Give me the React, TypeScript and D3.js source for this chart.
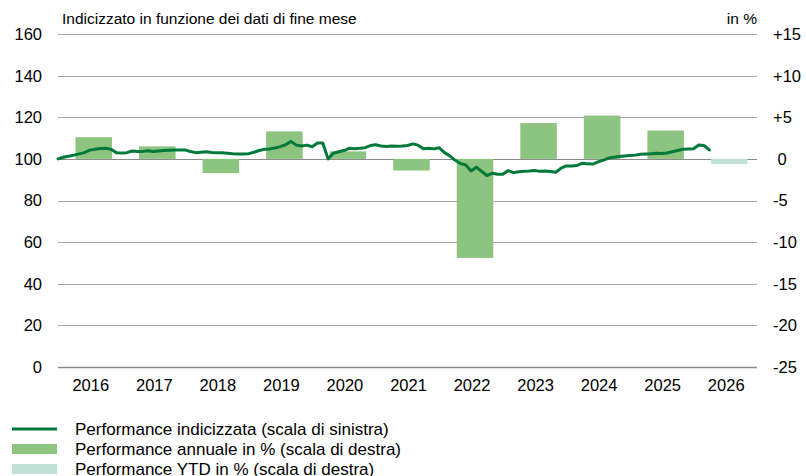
import React from "react";
import * as d3 from "d3";

const years = ["2016", "2017", "2018", "2019", "2020", "2021", "2022", "2023", "2024", "2025", "2026"];
const annualPerf = [2.6, 1.5, -1.7, 3.3, 0.9, -1.4, -11.9, 4.3, 5.2, 3.4, null];
const ytdPerf = [null, null, null, null, null, null, null, null, null, null, -0.6];
const leftTicks = [0, 20, 40, 60, 80, 100, 120, 140, 160];
const rightTicks = [-25, -20, -15, -10, -5, 0, 5, 10, 15];
// monthly index values, Dec 2015 = 100
const indexed = [
  100.0,
  100.8, 101.3, 101.8, 102.4, 103.0, 104.2, 104.6, 105.0, 105.1, 104.6, 103.0, 102.8,
  103.0, 103.8, 103.5, 103.6, 103.9, 103.5, 103.8, 104.0, 104.2, 104.3, 104.3, 104.3,
  103.5, 103.0, 103.2, 103.4, 103.1, 103.0, 102.9, 102.7, 102.5, 102.4, 102.4, 102.5,
  103.2, 104.0, 104.6, 104.8, 105.2, 105.9, 106.8, 108.4, 106.6, 106.2, 106.6, 105.8,
  107.6, 107.6, 100.0, 102.7, 103.4, 104.0, 105.1, 104.9, 105.1, 105.4, 106.4, 106.8,
  106.2, 106.0, 106.2, 106.1, 106.2, 106.4, 107.2, 106.6, 104.9, 105.1, 104.8, 105.3,
  103.0, 101.4, 99.3, 97.8, 97.1, 94.2, 96.0, 94.0, 92.0, 93.1, 92.6, 92.6,
  94.4, 93.4, 93.8, 94.1, 94.2, 94.4, 94.0, 94.2, 93.9, 93.6, 95.5, 96.6,
  96.6, 96.8, 97.9, 97.6, 97.5, 98.6, 99.4, 100.4, 100.8, 101.1, 101.4, 101.6,
  101.8, 102.2, 102.4, 102.5, 102.7, 102.6, 102.8, 103.4, 104.0, 104.6, 104.8, 104.9,
  106.7, 106.4, 104.3,
];

const W = 806;
const H = 476;
const X0 = 58;
const X1 = 757;
const YT = 34;
const YB = 367;
const FONT = "'Liberation Sans', Arial, sans-serif";
const LINE_COLOR = "#00793a";
const BAR_COLOR = "#8dc47f";
const YTD_COLOR = "#c0e1d5";

export default function App() {
  const yL = d3.scaleLinear().domain([0, 160]).range([YB, YT]);
  const yR = d3.scaleLinear().domain([-25, 15]).range([YB, YT]);
  const xBand = d3.scaleBand<string>().domain(years).range([X0, X1]).padding(0);
  const bw = xBand.bandwidth();
  const xM = d3.scaleLinear().domain([0, years.length * 12]).range([X0, X1]);
  const line = d3
    .line<number>()
    .x((_, i) => xM(i))
    .y((d) => yL(d))
    .curve(d3.curveLinear);

  const barRect = (v: number | null, yr: string, color: string, key: string) => {
    if (v === null || v === undefined) return null;
    const x = (xBand(yr) as number) + bw * 0.275;
    const y0 = yR(0);
    const y1 = yR(v);
    return (
      <rect
        key={key}
        x={x}
        width={bw * 0.575}
        y={Math.min(y0, y1)}
        height={Math.abs(y1 - y0)}
        fill={color}
      />
    );
  };

  const legend = [
    { label: "Performance indicizzata (scala di sinistra)", type: "line", color: LINE_COLOR },
    { label: "Performance annuale in % (scala di destra)", type: "bar", color: BAR_COLOR },
    { label: "Performance YTD in % (scala di destra)", type: "bar", color: YTD_COLOR },
  ];

  return (
    <div style={{ position: "fixed", left: 0, top: 0 }}>
      <svg width={W} height={H} style={{ display: "block", fontFamily: FONT }}>
        <rect x={0} y={0} width={W} height={H} fill="#fff" />
        {/* gridlines */}
        {leftTicks.map((t) => (
          <line
            key={"g" + t}
            x1={X0}
            x2={X1}
            y1={Math.round(yL(t)) + 0.5}
            y2={Math.round(yL(t)) + 0.5}
            stroke={t === 0 || t === 100 ? "#8a8a8a" : "#a6a6a6"}
            strokeWidth={t === 0 ? 1.5 : 1}
          />
        ))}
        {/* bars */}
        {years.map((yr, i) => barRect(annualPerf[i], yr, BAR_COLOR, "a" + yr))}
        {years.map((yr, i) => barRect(ytdPerf[i], yr, YTD_COLOR, "y" + yr))}
        {/* line */}
        <path
          d={line(indexed) || ""}
          fill="none"
          stroke={LINE_COLOR}
          strokeWidth={3}
          strokeLinejoin="round"
          strokeLinecap="round"
        />
        {/* left axis */}
        {leftTicks.map((t) => (
          <text
            key={"l" + t}
            x={42}
            y={yL(t)}
            dy="0.36em"
            textAnchor="end"
            fontSize={16.5}
            fill="#000"
          >
            {t}
          </text>
        ))}
        {/* right axis */}
        {rightTicks.map((t) => (
          <text
            key={"r" + t}
            x={773}
            y={yR(t)}
            dy="0.36em"
            textAnchor="start"
            fontSize={16.5}
            fill="#000"
          >
            {t > 0 ? "+" + t : t === 0 ? "\u00a00" : String(t)}
          </text>
        ))}
        {/* x axis labels */}
        {years.map((yr) => (
          <text
            key={"x" + yr}
            x={(xBand(yr) as number) + bw / 2 + 1}
            y={391}
            textAnchor="middle"
            fontSize={16.5}
            fill="#000"
          >
            {yr}
          </text>
        ))}
        {/* headers */}
        <text x={62} y={24} fontSize={15.5} fill="#000">
          Indicizzato in funzione dei dati di fine mese
        </text>
        <text x={757} y={24} fontSize={15.5} fill="#000" textAnchor="end">
          in %
        </text>
        {/* legend */}
        {legend.map((it, i) => {
          const cy = 429 + i * 20;
          return (
            <g key={"lg" + i}>
              {it.type === "line" ? (
                <line x1={12} x2={57} y1={cy} y2={cy} stroke={it.color} strokeWidth={3} />
              ) : (
                <rect x={12} y={cy - 5} width={45} height={10} fill={it.color} />
              )}
              <text x={75} y={cy} dy="0.36em" fontSize={17} fill="#000">
                {it.label}
              </text>
            </g>
          );
        })}
      </svg>
    </div>
  );
}
